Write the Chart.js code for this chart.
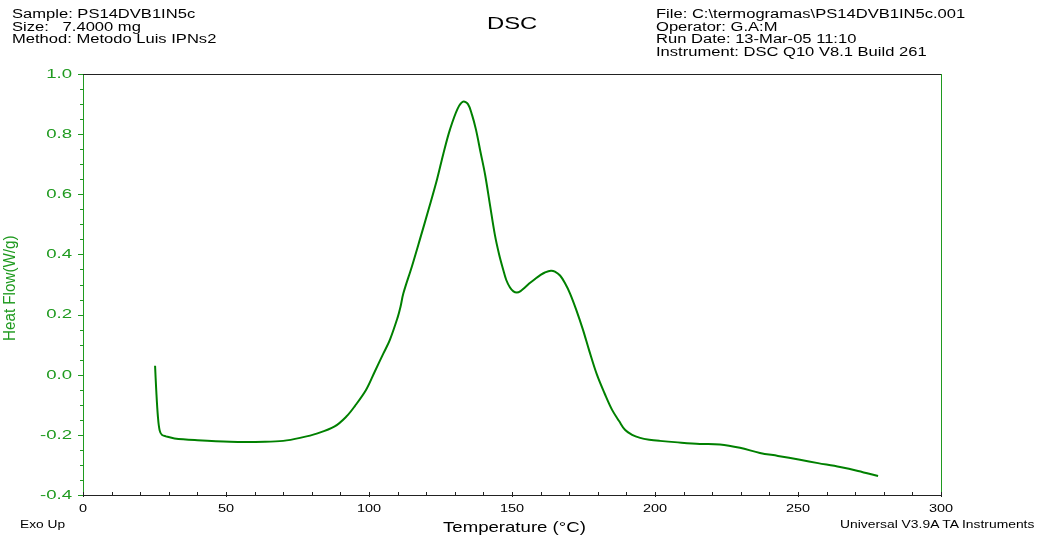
<!DOCTYPE html>
<html>
<head>
<meta charset="utf-8">
<script src="https://cdn.jsdelivr.net/npm/chart.js@4"></script>
<style>
  body { margin: 0; background: #fff; font-family: "Liberation Sans", Arial, sans-serif; }
  #wrap { position: relative; width: 1043px; height: 540px; }
  canvas { position: absolute; left: 0; top: 0; }
  .txt { position: absolute; color: #000; white-space: pre; transform-origin: 0 0; }
  .hdr { font-size: 12px; line-height: 12.5px; transform: scaleX(1.38); }
</style>
</head>
<body>
<div id="wrap">
  <canvas id="myChart" width="1043" height="540"></canvas>
  <div class="txt hdr" style="left:12px; top:8px;">Sample: PS14DVB1IN5c
Size:   7.4000 mg
Method: Metodo Luis IPNs2</div>
  <div class="txt" style="left:487px; top:15px; font-size:17px; line-height:17px; transform:scaleX(1.4);">DSC</div>
  <div class="txt hdr" style="left:656px; top:8px;">File: C:\termogramas\PS14DVB1IN5c.001
Operator: G.A:M
Run Date: 13-Mar-05 11:10
Instrument: DSC Q10 V8.1 Build 261</div>
  <div class="txt" style="left:20px; top:518px; font-size:11px; transform:scaleX(1.25);">Exo Up</div>
  <div class="txt" style="left:840px; top:518px; font-size:11px; transform:scaleX(1.26);">Universal V3.9A TA Instruments</div>
  <div class="txt" style="left:443px; top:518px; font-size:15px; line-height:17px; transform:scaleX(1.24);">Temperature (°C)</div>
  <div class="txt" style="left:2px; top:341px; font-size:16px; line-height:16px; color:#1f9a1f; transform:rotate(-90deg) scaleX(0.95);">Heat Flow(W/g)</div>
</div>
<script>
// temperature (°C) and heat flow (W/g)
var temps = [25.2, 25.6, 26.2, 26.8, 27.6, 29, 32, 40, 51.4, 63.6, 70, 75.9, 82, 88, 92, 95, 99, 102, 105, 107.3, 110, 111, 112, 115, 117.8, 121, 123.8, 126, 128.3, 131, 132.9, 134.6, 136, 137.4, 139, 140.6, 142.3, 144, 145.5, 146.9, 148, 149.3, 150.5, 151.7, 153, 154.5, 156, 158, 160, 161.5, 163.6, 165, 166.8, 168.5, 170.3, 172.5, 174.8, 177, 179.7, 182.5, 185, 187.5, 189.5, 192, 194.8, 198, 201.7, 208, 215.7, 222.7, 229.7, 236.7, 243, 250.7, 257, 264.7, 271, 278];
var heatFlow = [0.03, -0.05, -0.14, -0.185, -0.2, -0.205, -0.212, -0.218, -0.223, -0.223, -0.22, -0.21, -0.195, -0.172, -0.14, -0.105, -0.05, 0.01, 0.07, 0.116, 0.19, 0.225, 0.27, 0.36, 0.45, 0.555, 0.65, 0.735, 0.815, 0.885, 0.908, 0.9, 0.865, 0.815, 0.74, 0.665, 0.565, 0.466, 0.4, 0.35, 0.315, 0.29, 0.277, 0.273, 0.278, 0.29, 0.303, 0.318, 0.332, 0.34, 0.346, 0.343, 0.33, 0.305, 0.27, 0.215, 0.15, 0.08, 0.0, -0.065, -0.117, -0.155, -0.183, -0.2, -0.21, -0.216, -0.22, -0.225, -0.23, -0.232, -0.243, -0.26, -0.27, -0.283, -0.294, -0.307, -0.32, -0.337];

var xMin = 0, xMax = 300, xStep = 50, xMinorStep = 10;
var yMin = -0.4, yMax = 1.0, yStep = 0.2, yMinorStep = 0.05;

var green = "#008000";
var axisGreen = "#1f9a1f";

const points = temps.map((t, i) => ({ x: t, y: heatFlow[i] }));

// minor ticks, stretched tick labels and the frame's top/right edges
const frameTicks = {
  id: "frameTicks",
  afterDraw(chart) {
    const c = chart.ctx;
    const a = chart.chartArea;
    const xs = chart.scales.x;
    const ys = chart.scales.y;
    c.save();
    c.lineWidth = 1;
    c.strokeStyle = "#222";
    c.beginPath();
    c.moveTo(a.left, Math.round(a.top) + 0.5);
    c.lineTo(a.right, Math.round(a.top) + 0.5);
    c.stroke();
    c.strokeStyle = axisGreen;
    c.beginPath();
    c.moveTo(Math.round(a.right) + 0.5, a.top);
    c.lineTo(Math.round(a.right) + 0.5, a.bottom);
    c.stroke();
    // y ticks (pointing left)
    c.strokeStyle = axisGreen;
    for (let v = yMin; v <= yMax + 1e-9; v += yMinorStep) {
      const py = Math.round(ys.getPixelForValue(v)) + 0.5;
      const major = Math.abs(v / yStep - Math.round(v / yStep)) < 1e-6;
      c.beginPath();
      c.moveTo(a.left - (major ? 5 : 3), py);
      c.lineTo(a.left, py);
      c.stroke();
    }
    // x ticks (pointing up)
    c.strokeStyle = "#222";
    for (let v = xMin; v <= xMax; v += xMinorStep) {
      const px = Math.round(xs.getPixelForValue(v)) + 0.5;
      const major = v % xStep === 0;
      c.beginPath();
      c.moveTo(px, a.bottom - 3);
      c.lineTo(px, a.bottom + (major ? 2 : 0));
      c.stroke();
    }
    // tick labels
    c.font = "12px 'Liberation Sans', Arial";
    c.fillStyle = axisGreen;
    c.textAlign = "right";
    c.textBaseline = "middle";
    ys.ticks.forEach((t) => {
      const label = Math.abs(t.value) < 1e-9 ? "0.0" : t.value.toFixed(1);
      c.save();
      c.translate(a.left - 11, ys.getPixelForValue(t.value) + 0.5);
      c.scale(1.55, 1);
      c.fillText(label, 0, 0);
      c.restore();
    });
    c.font = "11.5px 'Liberation Sans', Arial";
    c.fillStyle = "#000";
    c.textAlign = "center";
    c.textBaseline = "top";
    xs.ticks.forEach((t) => {
      c.save();
      c.translate(xs.getPixelForValue(t.value), a.bottom + 8);
      c.scale(1.26, 1);
      c.fillText(String(t.value), 0, 0);
      c.restore();
    });
    c.restore();
  },
};

const ctx = document.getElementById("myChart");
new Chart(ctx, {
  type: "line",
  data: {
    datasets: [
      {
        data: points,
        borderColor: green,
        borderWidth: 2,
        pointRadius: 0,
        tension: 0.35,
        fill: false,
      },
    ],
  },
  options: {
    responsive: false,
    animation: false,
    layout: { padding: { left: 0, top: 74, right: 102, bottom: 0 } },
    plugins: { legend: { display: false }, tooltip: { enabled: false } },
    scales: {
      x: {
        type: "linear",
        min: xMin,
        max: xMax,
        afterFit: (s) => { s.height = 45; },
        grid: { drawOnChartArea: false, drawTicks: false },
        border: { color: "#222", width: 1 },
        ticks: { stepSize: xStep, display: false },
      },
      y: {
        type: "linear",
        min: yMin,
        max: yMax,
        afterFit: (s) => { s.width = 83; },
        grid: { drawOnChartArea: false, drawTicks: false },
        border: { color: axisGreen, width: 1 },
        ticks: { stepSize: yStep, display: false },
      },
    },
  },
  plugins: [frameTicks],
});
</script>
</body>
</html>
